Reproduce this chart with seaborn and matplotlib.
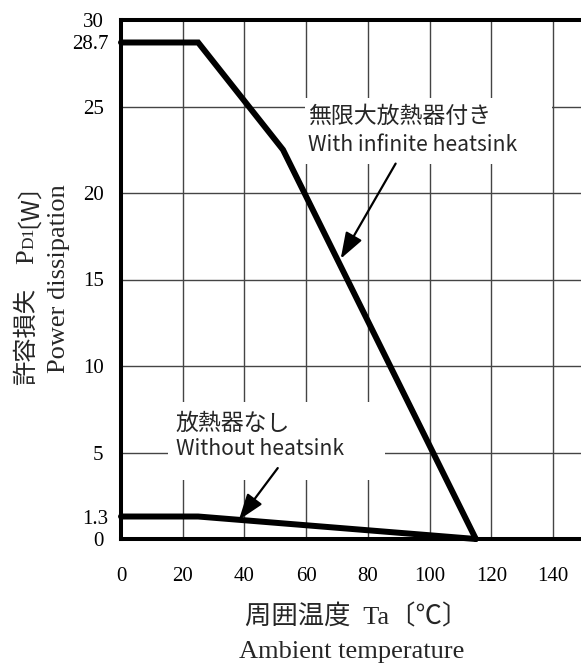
import matplotlib
matplotlib.use("Agg")
import matplotlib.pyplot as plt
import matplotlib.transforms as mtransforms
from matplotlib.patches import Rectangle
import seaborn as sns
import pandas as pd

# ---------------- data ----------------
temp_infinite = [0, 25, 52.5, 115]
power_infinite = [28.7, 28.7, 22.5, 0]
temp_none = [0, 25, 115]
power_none = [1.3, 1.3, 0]

x_ticks = [0, 20, 40, 60, 80, 100, 120, 140]
x_tick_labels = ["0", "20", "40", "60", "80", "100", "120", "140"]
y_ticks = [0, 1.3, 5, 10, 15, 20, 25, 28.7, 30]
y_tick_labels = ["0", "1.3", "5", "10", "15", "20", "25", "28.7", "30"]
x_grid = [20, 40, 60, 80, 100, 120, 140]
y_grid = [5, 10, 15, 20, 25]

label_infinite_ja = "無限大放熱器付き"
label_infinite_en = "With infinite heatsink"
label_none_ja = "放熱器なし"
label_none_en = "Without heatsink"

df_inf = pd.DataFrame({"Ta": temp_infinite, "P": power_infinite})
df_none = pd.DataFrame({"Ta": temp_none, "P": power_none})

# ---------------- style ----------------
sns.set_theme(style="white")
SERIF = ["Liberation Serif", "Noto Sans CJK JP", "DejaVu Sans"]
SANS = ["Noto Sans CJK JP", "DejaVu Sans"]
plt.rcParams["font.family"] = SERIF

W, H = 581, 666
fig = plt.figure(figsize=(W / 100, H / 100), dpi=100)
fig.patch.set_facecolor("white")

px_per_x = 432 / 140.0
x_max = 150
ax = fig.add_axes([121 / W, (H - 539) / H, x_max * px_per_x / W, 519 / H])
ax.set_facecolor("white")

# grid lines
for gx in x_grid:
    ax.axvline(gx, color="#444444", lw=1.0, zorder=0.5)
for gy in y_grid:
    ax.axhline(gy, color="#444444", lw=1.0, zorder=0.5)

sns.lineplot(data=df_inf, x="Ta", y="P", ax=ax, color="black", lw=4.3,
             solid_capstyle="round", solid_joinstyle="miter", zorder=4, clip_on=False)
sns.lineplot(data=df_none, x="Ta", y="P", ax=ax, color="black", lw=4.3,
             solid_capstyle="round", solid_joinstyle="miter", zorder=4, clip_on=False)

ax.set_xlim(0, x_max)
ax.set_ylim(0, 30)

ax.set_xticks(x_ticks)
ax.set_xticklabels(x_tick_labels)
ax.set_yticks(y_ticks)
ax.set_yticklabels(y_tick_labels)
ax.grid(False)
ax.tick_params(axis="both", which="both", length=0)
ax.tick_params(axis="x", which="major", pad=20, labelsize=15, labelcolor="black")
ax.tick_params(axis="y", which="major", pad=12.5, labelsize=15, labelcolor="black")
ax.set_xlabel("")
ax.set_ylabel("")

for s in ax.spines.values():
    s.set_color("black")
    s.set_linewidth(2.9)
    s.set_zorder(5)

# white masks behind annotation texts
ax.add_patch(Rectangle((59.5, 21.7), 80.3, 3.8, facecolor="white", edgecolor="none", zorder=1))
ax.add_patch(Rectangle((15.2, 3.4), 70.2, 4.5, facecolor="white", edgecolor="none", zorder=1))

ax.text(60.5, 24.4, label_infinite_ja, family=SANS, fontsize=16.5, ha="left", va="center", zorder=3)
ax.text(60.5, 22.8, label_infinite_en, family=SANS, fontsize=15.2, ha="left", va="center", zorder=3)
ax.text(17.8, 6.7, label_none_ja, family=SANS, fontsize=16.5, ha="left", va="center", zorder=3)
ax.text(17.8, 5.2, label_none_en, family=SANS, fontsize=15.2, ha="left", va="center", zorder=3)

arrow_kw = dict(arrowstyle="-|>,head_length=0.8,head_width=0.28", color="black", lw=1.6,
                shrinkA=0, shrinkB=0, mutation_scale=20)
ax.annotate("", xy=(71.2, 16.2), xytext=(89, 21.7), arrowprops=arrow_kw, zorder=4)
ax.annotate("", xy=(38.2, 1.1), xytext=(50.8, 4.1), arrowprops=arrow_kw, zorder=4)

# nudge the 1.3 and 28.7 labels a bit right like the reference
for lab in ax.get_yticklabels():
    if lab.get_text() in ("1.3", "28.7"):
        lab.set_transform(lab.get_transform() + mtransforms.ScaledTranslation(5 / 100, 0, fig.dpi_scale_trans))

# x label (two lines)
fig.text(357 / W, 1 - 617 / H, "周囲温度  Ta〔℃〕", ha="center", va="center", fontsize=19, family=SERIF)
fig.text(352 / W, 1 - 652 / H, "Ambient temperature", ha="center", va="center", fontsize=19, family=SERIF)

# y label line 2
fig.text(65 / W, 1 - 279 / H, "Power dissipation", rotation=90, rotation_mode="anchor",
         ha="center", va="baseline", fontsize=19, family=SERIF)

# y label line 1 built from pieces (with small D1)
fig.canvas.draw()
renderer = fig.canvas.get_renderer()
pieces = [("許容損失", 17.5, SANS, 0), ("\u3000", 17.5, SANS, 0), ("P", 19, SERIF, 0),
          ("D1", 12.5, SERIF, 0), ("〔W〕", 18, SANS, -11)]
ypos = 385.0  # px from top
base_x = 33.0
for txt, size, fam, dx in pieces:
    t = fig.text((base_x + dx) / W, 1 - ypos / H, txt, rotation=90, rotation_mode="anchor",
                 ha="left", va="baseline", fontsize=size, family=fam)
    ext = t.get_window_extent(renderer=renderer)
    ypos -= ext.height

fig.savefig("out.png", dpi=100, facecolor="white")
